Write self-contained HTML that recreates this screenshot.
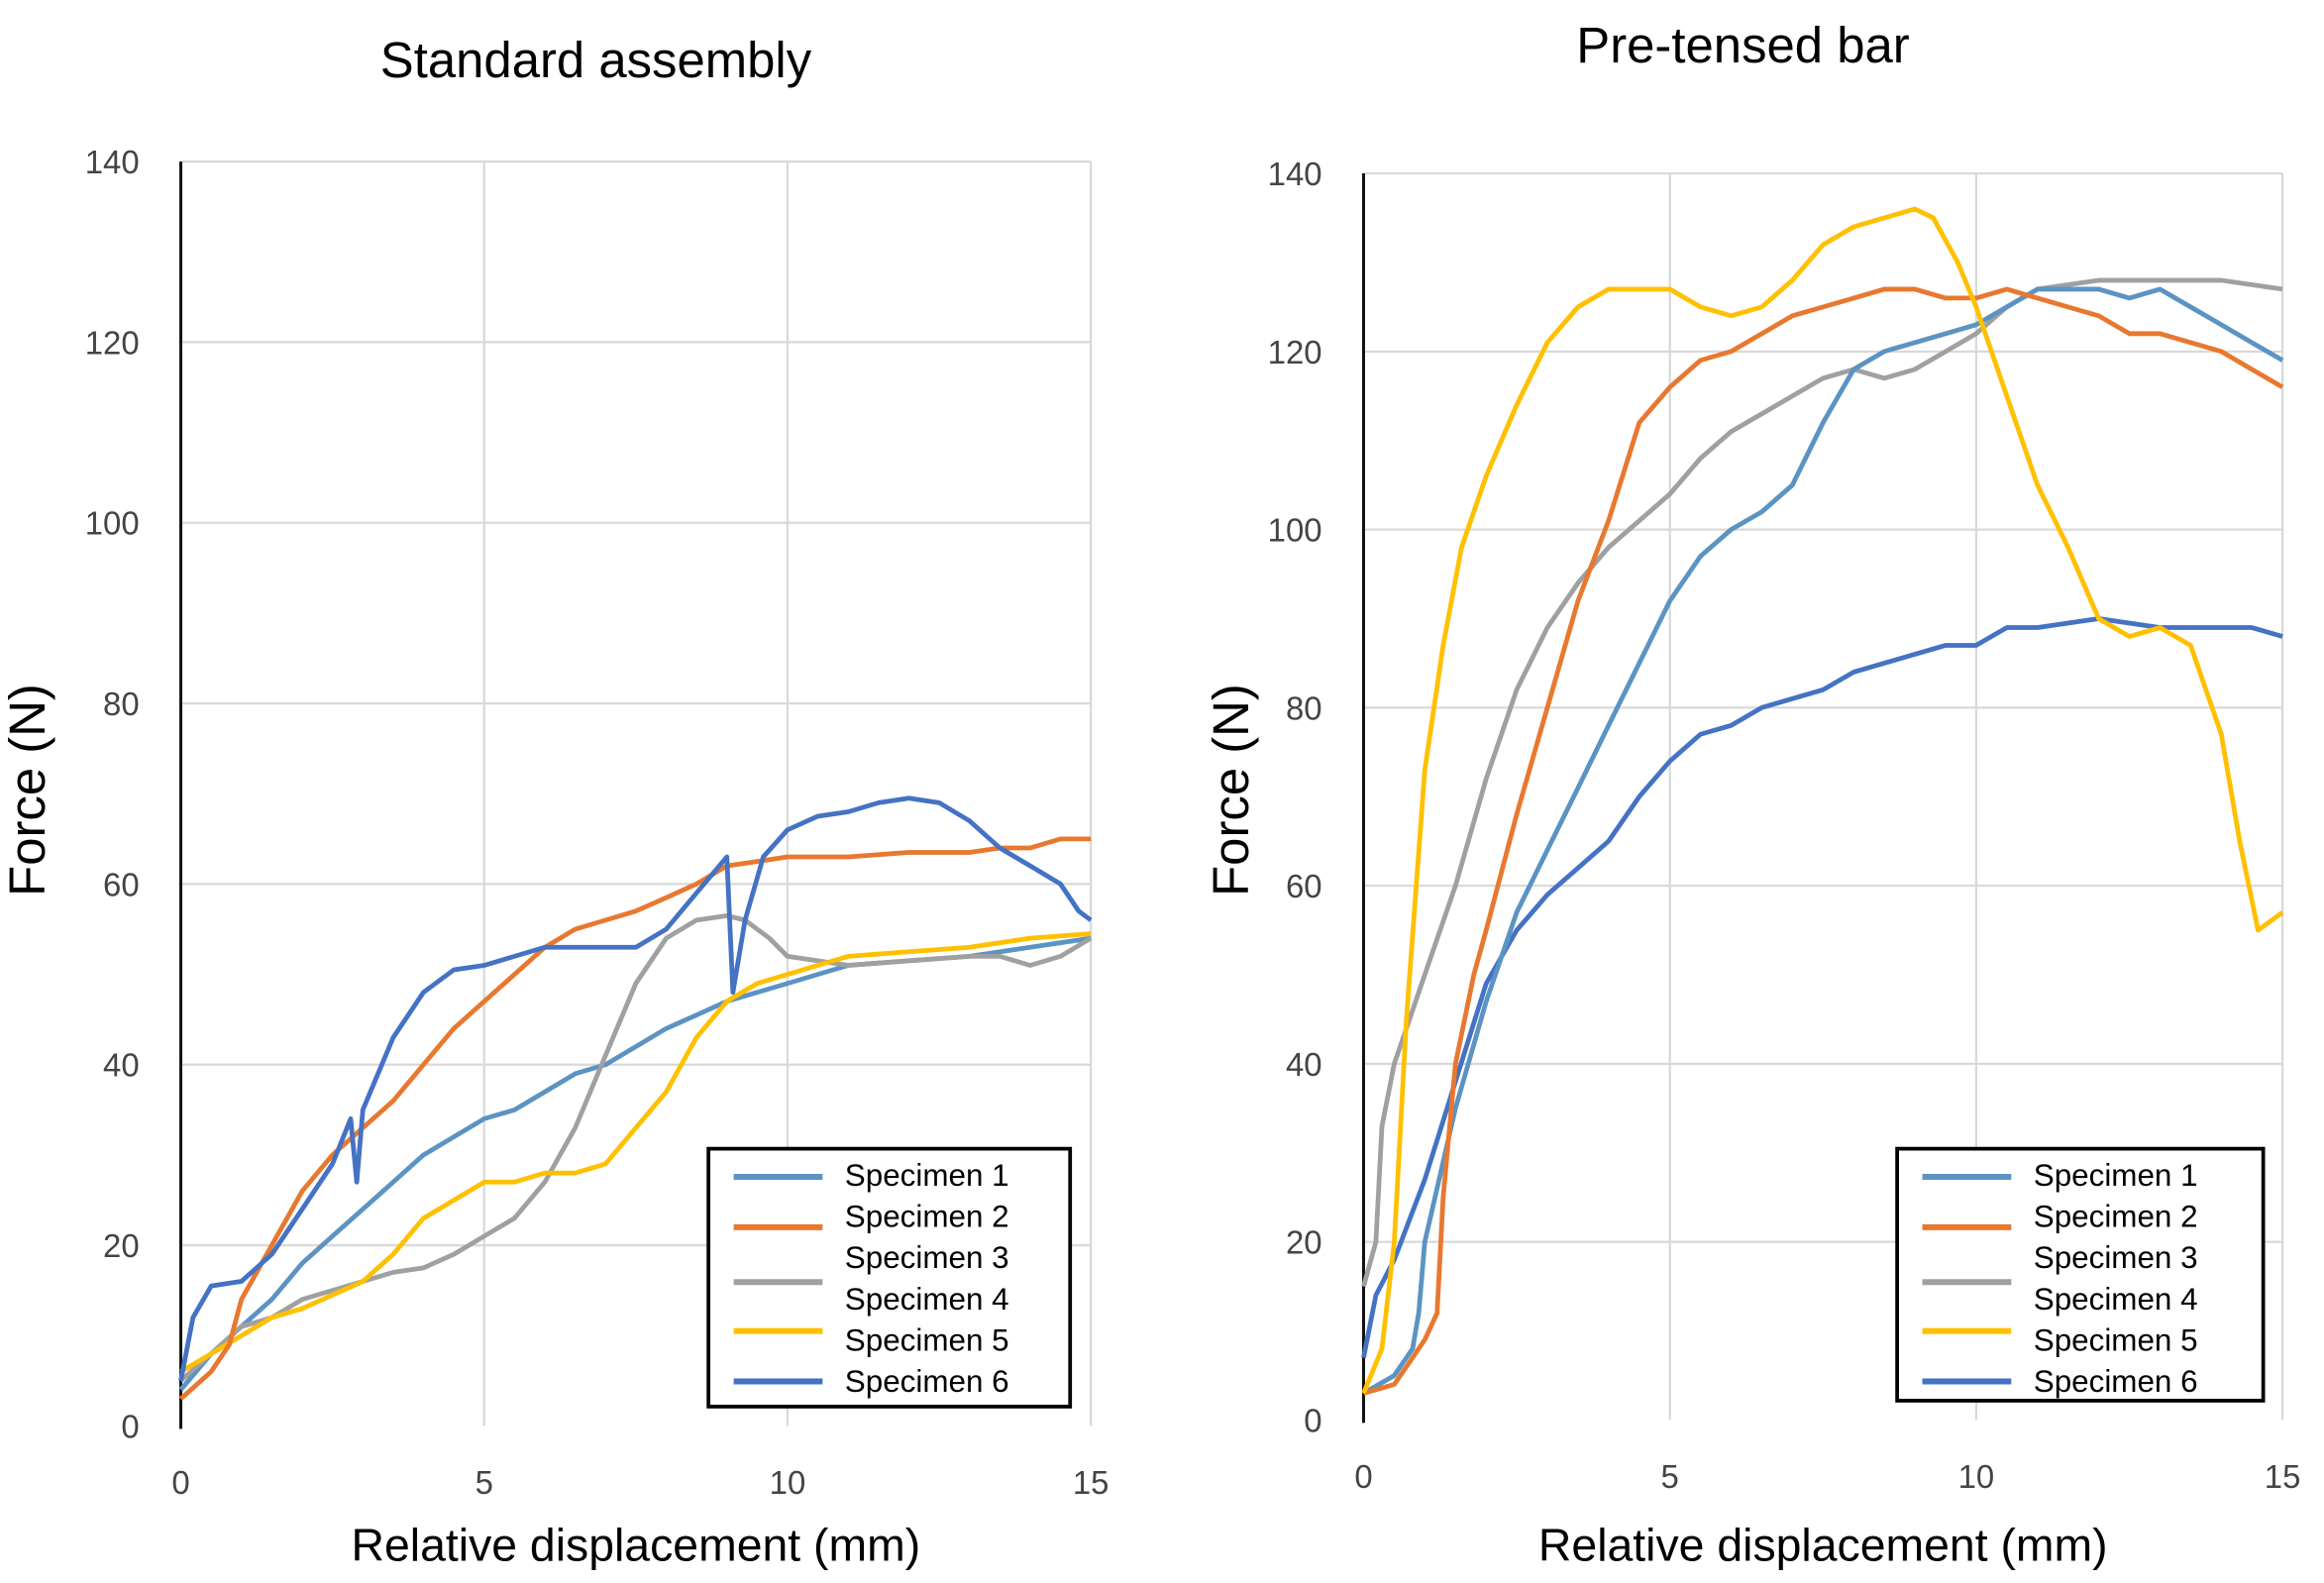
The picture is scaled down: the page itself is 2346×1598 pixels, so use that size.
<!DOCTYPE html>
<html><head><meta charset="utf-8"><style>
html,body{margin:0;padding:0;background:#fff;}
svg{display:block;}
text{font-family:"Liberation Sans",Arial,sans-serif;}
</style></head><body>
<svg id="root" width="2346" height="1598" viewBox="0 0 1568 1068" preserveAspectRatio="none" xmlns="http://www.w3.org/2000/svg">
<rect width="1568" height="1068" fill="#fff"/>
<g id="left"></g>
<g id="right"></g>
</svg>
<script>
const xTicks=[0,5,10,15];
const yTicks=[0,20,40,60,80,100,120,140];
const colors=["#5b93c3","#e8782f","#a0a0a0","#ffc000","#4472c4"];
const legendLabels=["Specimen 1","Specimen 2","Specimen 3","Specimen 4","Specimen 5","Specimen 6"];

const L1x=[0,0.5,1,1.5,2,2.5,3,3.5,4,4.5,5,5.5,6,6.5,7,7.5,8,8.5,9,9.5,10,10.5,11,12,13,14,15];
const L1y=[4,8,11,14,18,21,24,27,30,32,34,35,37,39,40,42,44,45.5,47,48,49,50,51,51.5,52,53,54];
const L2x=[0,0.5,0.8,1,1.5,2,2.5,3,3.5,4,4.5,5,5.5,6,6.5,7,7.5,8,8.5,9,9.5,10,11,12,13,13.5,14,14.5,15];
const L2y=[3,6,9,14,20,26,30,33,36,40,44,47,50,53,55,56,57,58.5,60,62,62.5,63,63,63.5,63.5,64,64,65,65];
const L3x=[0,0.5,1,1.5,2,2.5,3,3.5,4,4.5,5,5.5,6,6.5,7,7.5,8,8.5,9,9.3,9.7,10,10.5,11,12,13,13.5,14,14.5,15];
const L3y=[5,8,11,12,14,15,16,17,17.5,19,21,23,27,33,41,49,54,56,56.5,56,54,52,51.5,51,51.5,52,52,51,52,54];
const L5x=[0,0.5,1,1.5,2,2.5,3,3.5,4,4.5,5,5.5,6,6.5,7,7.5,8,8.5,9,9.5,10,10.5,11,12,13,14,15];
const L5y=[6,8,10,12,13,14.5,16,19,23,25,27,27,28,28,29,33,37,43,47,49,50,51,52,52.5,53,54,54.5];
const L6x=[0,0.2,0.5,1,1.5,2,2.5,2.8,2.9,3,3.5,4,4.5,5,5.5,6,7,7.5,8,8.5,9,9.1,9.3,9.6,10,10.5,11,11.5,12,12.5,13,13.5,14,14.5,14.8,15];
const L6y=[5,12,15.5,16,19,24,29,34,27,35,43,48,50.5,51,52,53,53,53,55,59,63,48,56,63,66,67.5,68,69,69.5,69,67,64,62,60,57,56];

const R1x=[0,0.5,0.8,0.9,1,1.5,2,2.5,3,3.5,4,4.5,5,5.5,6,6.5,7,7.5,8,8.5,9,9.5,10,10.5,11,11.5,12,12.5,13,13.5,14,14.5,15];
const R1y=[3,5,8,12,20,35,47,57,64,71,78,85,92,97,100,102,105,112,118,120,121,122,123,125,127,127,127,126,127,125,123,121,119];
const R2x=[0,0.5,0.8,1,1.2,1.3,1.5,1.8,2,2.5,3,3.5,4,4.5,5,5.5,6,6.5,7,7.5,8,8.5,9,9.5,10,10.5,11,11.5,12,12.5,13,13.5,14,14.5,15];
const R2y=[3,4,7,9,12,25,40,50,55,68,80,92,101,112,116,119,120,122,124,125,126,127,127,126,126,127,126,125,124,122,122,121,120,118,116];
const R3x=[0,0.2,0.3,0.5,1,1.5,2,2.5,3,3.5,4,4.5,5,5.5,6,6.5,7,7.5,8,8.5,9,9.5,10,10.5,11,12,13,14,15];
const R3y=[15,20,33,40,50,60,72,82,89,94,98,101,104,108,111,113,115,117,118,117,118,120,122,125,127,128,128,128,127];
const R5x=[0,0.3,0.5,0.7,1,1.3,1.6,2,2.5,3,3.5,4,5,5.5,6,6.5,7,7.5,8,8.5,9,9.3,9.7,10,10.5,11,11.5,12,12.5,13,13.5,14,14.3,14.6,15];
const R5y=[3,8,20,45,73,87,98,106,114,121,125,127,127,125,124,125,128,132,134,135,136,135,130,125,115,105,98,90,88,89,87,77,65,55,57];
const R6x=[0,0.2,0.5,1,1.5,2,2.5,3,3.5,4,4.5,5,5.5,6,6.5,7,7.5,8,8.5,9,9.5,10,10.5,11,12,13,14,14.5,15];
const R6y=[7,14,18,27,38,49,55,59,62,65,70,74,77,78,80,81,82,84,85,86,87,87,89,89,90,89,89,89,88];

const NS="http://www.w3.org/2000/svg";
function mk(tag,attrs,parent,txt){const e=document.createElementNS(NS,tag);for(const k in attrs)e.setAttribute(k,attrs[k]);if(txt!==undefined)e.textContent=txt;parent.appendChild(e);return e;}

function chart(g,cfg){
  const sx=v=>cfg.x0+(cfg.x1-cfg.x0)*v/15;
  const sy=v=>cfg.y0-(cfg.y0-cfg.y1)*v/140;
  xTicks.forEach(t=>{ if(t>0){const l=mk("line",{x1:sx(t),x2:sx(t),y1:sy(140),y2:sy(0),stroke:"#d9d9d9","stroke-width":1.5},g);
    
    }
    const tx=mk("text",{x:sx(t),y:sy(0)+46,"text-anchor":"middle","font-size":22,fill:"#444"},g,String(t));
    
    
  });
  yTicks.forEach(t=>{ if(t>0){const l=mk("line",{x1:sx(0),x2:sx(15),y1:sy(t),y2:sy(t),stroke:"#d9d9d9","stroke-width":1.5},g);
    
    }
    const tx=mk("text",{x:sx(0)-28,y:sy(t)+8,"text-anchor":"end","font-size":22,fill:"#444"},g,String(t));
    
    
  });
  const ax=mk("line",{x1:sx(0),x2:sx(0),y1:sy(140),y2:sy(0)+2,stroke:"#111","stroke-width":2},g);
  
  
  cfg.series.forEach((s,i)=>{
    const d=s.x.map((v,j)=>(j?"L":"M")+sx(v).toFixed(1)+","+sy(s.y[j]).toFixed(1)).join(" ");
    const p=mk("path",{d:d,fill:"none",stroke:s.c,"stroke-width":3.2,"stroke-linejoin":"round"},g);
    
    
  });
  const t=mk("text",{x:cfg.tx,y:cfg.ty,"text-anchor":"middle","font-size":34,fill:"#000"},g,cfg.title);
  
  
  const xl=mk("text",{x:(sx(0)+sx(15))/2,y:1053,"text-anchor":"middle","font-size":31,fill:"#000"},g,"Relative displacement (mm)");
  
  
  const yl=mk("text",{x:cfg.ylx,y:533,"text-anchor":"middle","font-size":34,fill:"#000",transform:"rotate(-90 "+cfg.ylx+" 533)"},g,"Force (N)");
  
  
  const lg=mk("g",{},g);
  
  
  mk("rect",{x:cfg.lx,y:cfg.ly,width:cfg.lw,height:cfg.lh,fill:"#fff",stroke:"#000","stroke-width":2.5},lg);
  const lineY=[19,53,90,123,157];
  colors.forEach((c,i)=>{const l=mk("line",{x1:cfg.lx+17,x2:cfg.lx+77,y1:cfg.ly+lineY[i],y2:cfg.ly+lineY[i],stroke:c,"stroke-width":4},lg);
    
    });
  legendLabels.forEach((s,i)=>{const tx=mk("text",{x:cfg.lx+92,y:cfg.ly+25+i*27.8,"font-size":21,fill:"#000"},lg,s);
    
    });
}
chart(document.getElementById("left"),{x0:122,x1:736,y0:962,y1:109,tx:402,ty:52,title:"Standard assembly",ylx:30,lx:478,ly:775,lw:244,lh:174,
 series:[{x:L1x,y:L1y,c:colors[0],n:1},{x:L3x,y:L3y,c:colors[2],n:3},{x:L5x,y:L5y,c:colors[3],n:5},{x:L2x,y:L2y,c:colors[1],n:2},{x:L6x,y:L6y,c:colors[4],n:6}]});
chart(document.getElementById("right"),{x0:920,x1:1540,y0:958,y1:117,tx:1176,ty:42,title:"Pre-tensed bar",ylx:842,lx:1280,ly:775,lw:247,lh:170,
 series:[{x:R6x,y:R6y,c:colors[4],n:6},{x:R3x,y:R3y,c:colors[2],n:3},{x:R1x,y:R1y,c:colors[0],n:1},{x:R2x,y:R2y,c:colors[1],n:2},{x:R5x,y:R5y,c:colors[3],n:5}]});
</script>
</body></html>
